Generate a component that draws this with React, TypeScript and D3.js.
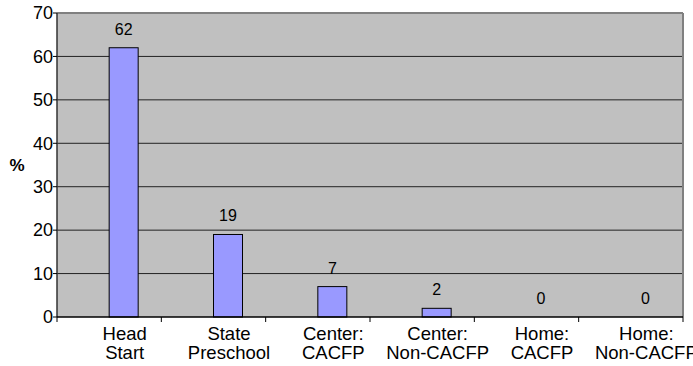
import React from "react";
import * as d3 from "d3";

const categories: string[][] = [
  ["Head", "Start"],
  ["State", "Preschool"],
  ["Center:", "CACFP"],
  ["Center:", "Non-CACFP"],
  ["Home:", "CACFP"],
  ["Home:", "Non-CACFP"],
];
const values: number[] = [62, 19, 7, 2, 0, 0];
const yTicks: number[] = [0, 10, 20, 30, 40, 50, 60, 70];

const W = 693;
const H = 366;
const left = 57;
const right = 683;
const top = 13;
const bottom = 317;
const font = "Arial, 'Liberation Sans', sans-serif";

export default function App() {
  const keys = categories.map((_, i) => String(i));
  const x = d3.scaleBand<string>().domain(keys).range([left, right]).padding(0);
  const y = d3.scaleLinear().domain([0, 70]).range([bottom, top]);
  const bw = 29;
  const barX = (i: number) => (x(String(i)) as number) + x.bandwidth() / 2;

  return (
    <svg width={W} height={H} style={{ position: "absolute", left: 0, top: 0, background: "#fff" }}>
      <rect x={left} y={top} width={right - left} height={bottom - top} fill="#c0c0c0" />
      {yTicks.filter((t) => t > 0 && t < 70).map((t) => (
        <line key={"g" + t} x1={left} x2={right} y1={y(t)} y2={y(t)} stroke="#222" strokeWidth={1} />
      ))}
      <line x1={left} x2={right} y1={top} y2={top} stroke="#808080" strokeWidth={2} />
      <line x1={right} x2={right} y1={top} y2={bottom} stroke="#808080" strokeWidth={2} />
      {values.map((v, i) => (
        <g key={"b" + i}>
          {v > 0 && (
            <rect x={barX(i)} y={y(v)} width={bw} height={bottom - y(v)} fill="#9999ff" stroke="#000" strokeWidth={1} />
          )}
          <text x={barX(i) + bw / 2} y={y(v) - 13} textAnchor="middle" fontFamily={font} fontSize={16} fill="#000">
            {v}
          </text>
        </g>
      ))}
      <line x1={left} x2={left} y1={top} y2={bottom} stroke="#333" strokeWidth={1.5} />
      <line x1={left} x2={right} y1={bottom} y2={bottom} stroke="#000" strokeWidth={1.5} />
      {yTicks.map((t) => (
        <g key={"y" + t}>
          <line x1={left - 4} x2={left} y1={y(t)} y2={y(t)} stroke="#000" />
          <text x={left - 4} y={y(t)} dy="0.35em" textAnchor="end" fontFamily={font} fontSize={18} fill="#000">
            {t}
          </text>
        </g>
      ))}
      {keys.concat(["6"]).map((k, i) => {
        const xx = left + i * x.bandwidth();
        return <line key={"xt" + i} x1={xx} x2={xx} y1={bottom} y2={bottom + 5} stroke="#000" />;
      })}
      {categories.map((lines, i) => (
        <text key={"xl" + i} textAnchor="middle" fontFamily={font} fontSize={18.5} fill="#000">
          {lines.map((l, j) => (
            <tspan key={j} x={barX(i) + bw / 2 + 1} y={340 + j * 19}>
              {l}
            </tspan>
          ))}
        </text>
      ))}
      <text x={17} y={171} textAnchor="middle" fontFamily={font} fontSize={17} fontWeight="bold" fill="#000">
        %
      </text>
    </svg>
  );
}
